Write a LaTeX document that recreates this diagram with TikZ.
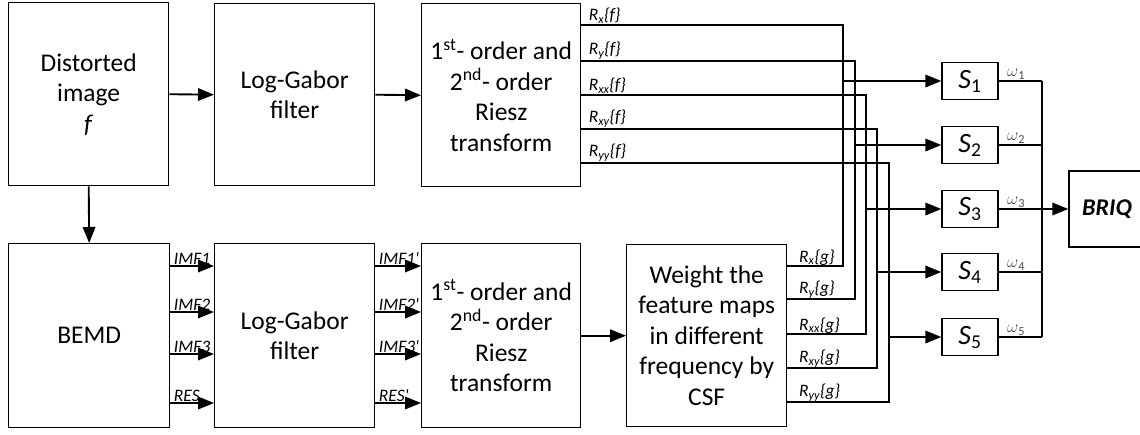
\documentclass[tikz,border=0pt]{standalone}
\usepackage{fontspec}
\setmainfont{Carlito}
\usetikzlibrary{arrows.meta}
\newcommand\mainsz{\fontsize{25.5}{30.5}\selectfont}
\newcommand\labsz{\fontsize{17.5}{20}\selectfont}
\begin{document}
\begin{tikzpicture}[x=1pt,y=-1pt,
  box/.style={draw, line width=1.4pt, inner sep=0pt, align=center, font=\mainsz, anchor=north west},
  sbox/.style={draw, line width=1.4pt, inner sep=0pt, minimum width=56pt, minimum height=37pt, font=\fontsize{28}{30}\selectfont},
  wire/.style={line width=1.7pt},
  arr/.style={line width=1.9pt, -{Triangle[length=16pt,width=12.5pt]}},
  lab/.style={font=\labsz\itshape, inner sep=0.6pt, anchor=south west},
  wlab/.style={font=\labsz, inner sep=0.6pt, anchor=south west, text=black!70}
]
\useasboundingbox (0,0) rectangle (1140,434);
\fill[white] (0,0) rectangle (1140,434);

% top row
\node[box, minimum width=160pt, minimum height=183pt] (di) at (8,2) {Distorted\\image\\\textit{f}};
\node[box, minimum width=160pt, minimum height=182pt] (lg1) at (214,3) {Log-Gabor\\filter};
\node[box, minimum width=159pt, minimum height=183pt] (rt1) at (421,3) {1\textsuperscript{st}- order and\\2\textsuperscript{nd}- order\\Riesz\\transform};

% bottom row
\node[box, minimum width=161pt, minimum height=184pt] (bemd) at (8,243) {BEMD};
\node[box, minimum width=160pt, minimum height=184pt] (lg2) at (214,243) {Log-Gabor\\filter};
\node[box, minimum width=159pt, minimum height=184pt] (rt2) at (421,243) {1\textsuperscript{st}- order and\\2\textsuperscript{nd}- order\\Riesz\\transform};
\node[box, minimum width=160pt, minimum height=182pt] (wt) at (626,244) {Weight the\\feature maps\\in different\\frequency by\\CSF};

% S boxes and BRIQ
\node[sbox] (s1) at (970,81) {\textit{S}\textsubscript{1}};
\node[sbox] (s2) at (970,145) {\textit{S}\textsubscript{2}};
\node[sbox] (s3) at (970,209) {\textit{S}\textsubscript{3}};
\node[sbox] (s4) at (970,272) {\textit{S}\textsubscript{4}};
\node[sbox] (s5) at (970,337) {\textit{S}\textsubscript{5}};
\node[draw, line width=1.4pt, inner sep=0pt, minimum width=76pt, minimum height=76pt, font=\fontsize{24}{28}\selectfont\bfseries\itshape] (briq) at (1107,209) {BRIQ};

% main arrows
\draw[arr] (di.east) -- (lg1.west);
\draw[arr] (lg1.east) -- (rt1.west);
\draw[arr] (di.south) -- (bemd.north);
\draw[arr] (rt2.east) -- (wt.west);

% IMF arrows
\foreach \y/\a/\b in {266/IMF1/IMF1\textquotesingle, 312/IMF2/IMF2\textquotesingle, 354/IMF3/IMF3\textquotesingle, 403/RES/RES\textquotesingle} {
  \draw[arr] (bemd.east |- 0,\y) -- node[lab, pos=0, xshift=2pt] {\a} (lg2.west |- 0,\y);
  \draw[arr] (lg2.east |- 0,\y) -- node[lab, pos=0, xshift=2pt] {\b} (rt2.west |- 0,\y);
}

% Riesz feature wires
\foreach \i/\yf/\yg/\bx/\sb in {1/25/266/843/x, 2/61/299/855/y, 3/95/334/866/xx, 4/129/368/877/xy, 5/163/402/889/yy} {
  \coordinate (b\i) at (\bx,0);
  \draw[wire] (rt1.east |- 0,\yf) -- node[lab, pos=0, xshift=6pt] {R\textsubscript{\sb}\{f\}} (\bx,\yf)
     -- (\bx,\yg) -- (wt.east |- 0,\yg);
  \node[lab] at ([xshift=11pt]wt.east |- 0,\yg) {R\textsubscript{\sb}\{g\}};
  \draw[arr] (s\i.west -| b\i) -- (s\i.west);
}

% omega outputs
\coordinate (bus) at (1042,0);
\foreach \i in {1,...,5} {
  \draw[wire] (s\i.east) -- node[wlab, pos=0, xshift=7pt] {$\omega$\textsubscript{\i}} (s\i.east -| bus);
}
\draw[wire] (s1.east -| bus) -- (s5.east -| bus);
\draw[arr] (briq.west -| bus) -- (briq.west);
\end{tikzpicture}
\end{document}
